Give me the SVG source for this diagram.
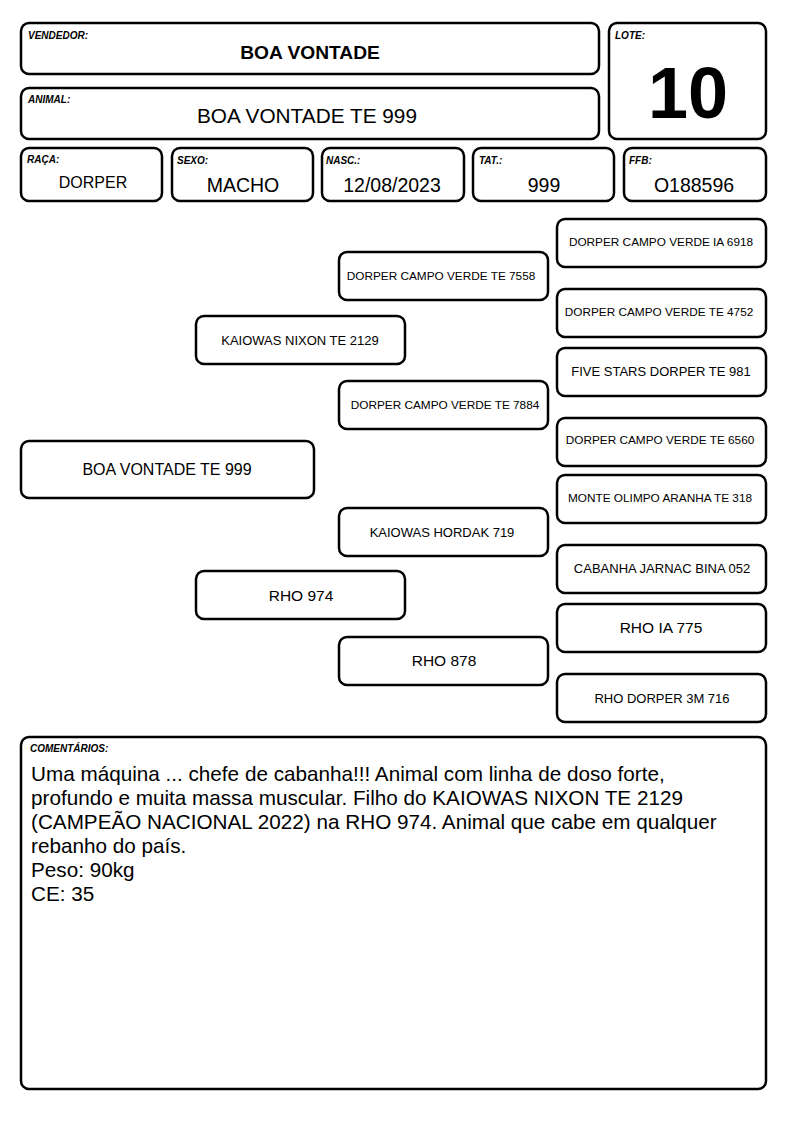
<svg xmlns="http://www.w3.org/2000/svg" width="794" height="1123" viewBox="0 0 794 1123">
<style>
.b{fill:#fff;stroke:#000;stroke-width:2.5}
.l{font-family:"Liberation Sans",Arial,sans-serif;font-size:10px;font-weight:bold;font-style:italic;fill:#000}
.t{font-family:"Liberation Sans",Arial,sans-serif;fill:#000;text-anchor:middle}
.p{font-size:11.8px}
.m{font-size:13px}
.q{font-size:15.5px}
.v{font-size:19.5px}
.c{font-family:"Liberation Sans",Arial,sans-serif;font-size:20.7px;fill:#000}
</style>
<rect width="794" height="1123" fill="#fff"/>
<g id="vendedor"><rect class="b" x="21" y="23" width="578" height="51" rx="8"/><text class="l" x="28" y="39">VENDEDOR:</text><text class="t" x="310" y="59" font-size="19.2" font-weight="bold">BOA VONTADE</text></g>
<g id="animal"><rect class="b" x="21" y="88" width="578" height="51" rx="8"/><text class="l" x="28" y="103">ANIMAL:</text><text class="t" x="307" y="123" font-size="20.8">BOA VONTADE TE 999</text></g>
<g id="lote"><rect class="b" x="609" y="23" width="157" height="116" rx="8"/><text class="l" x="615" y="39">LOTE:</text><text class="t" x="688" y="118" font-size="72" font-weight="bold">10</text></g>
<g id="raca"><rect class="b" x="21" y="148" width="141" height="53" rx="8"/><text class="l" x="27" y="163">RAÇA:</text><text class="t" x="93" y="188" font-size="16">DORPER</text></g>
<g id="sexo"><rect class="b" x="172" y="148" width="141" height="53" rx="8"/><text class="l" x="177" y="164">SEXO:</text><text class="t v" x="243" y="192">MACHO</text></g>
<g id="nasc"><rect class="b" x="322" y="148" width="142" height="53" rx="8"/><text class="l" x="326" y="164">NASC.:</text><text class="t v" x="392" y="192">12/08/2023</text></g>
<g id="tat"><rect class="b" x="473" y="148" width="141" height="53" rx="8"/><text class="l" x="479" y="164">TAT.:</text><text class="t v" x="544" y="192">999</text></g>
<g id="ffb"><rect class="b" x="624" y="148" width="142" height="53" rx="8"/><text class="l" x="629" y="164">FFB:</text><text class="t v" x="694" y="192">O188596</text></g>
<g id="n0"><rect class="b" x="21" y="441" width="293" height="57" rx="8"/><text class="t" x="167" y="475" font-size="16">BOA VONTADE TE 999</text></g>
<g id="n1"><rect class="b" x="196" y="316" width="209" height="48" rx="8"/><text class="t m" x="300" y="345">KAIOWAS NIXON TE 2129</text></g>
<g id="n2"><rect class="b" x="196" y="571" width="209" height="48" rx="8"/><text class="t q" x="301" y="601">RHO 974</text></g>
<g id="n3"><rect class="b" x="339" y="252" width="209" height="48" rx="8"/><text class="t p" x="441" y="280">DORPER CAMPO VERDE TE 7558</text></g>
<g id="n4"><rect class="b" x="339" y="381" width="209" height="48" rx="8"/><text class="t p" x="445" y="409">DORPER CAMPO VERDE TE 7884</text></g>
<g id="n5"><rect class="b" x="339" y="508" width="209" height="48" rx="8"/><text class="t m" x="442" y="537">KAIOWAS HORDAK 719</text></g>
<g id="n6"><rect class="b" x="339" y="637" width="209" height="48" rx="8"/><text class="t q" x="444" y="666">RHO 878</text></g>
<g id="n7"><rect class="b" x="557" y="219" width="209" height="48" rx="8"/><text class="t p" x="661" y="246">DORPER CAMPO VERDE IA 6918</text></g>
<g id="n8"><rect class="b" x="557" y="289" width="209" height="48" rx="8"/><text class="t p" x="659" y="316">DORPER CAMPO VERDE TE 4752</text></g>
<g id="n9"><rect class="b" x="557" y="348" width="209" height="48" rx="8"/><text class="t m" x="661" y="376">FIVE STARS DORPER TE 981</text></g>
<g id="n10"><rect class="b" x="557" y="418" width="209" height="48" rx="8"/><text class="t p" x="660" y="444">DORPER CAMPO VERDE TE 6560</text></g>
<g id="n11"><rect class="b" x="557" y="475" width="209" height="48" rx="8"/><text class="t p" x="660" y="502">MONTE OLIMPO ARANHA TE 318</text></g>
<g id="n12"><rect class="b" x="557" y="545" width="209" height="48" rx="8"/><text class="t m" x="662" y="573">CABANHA JARNAC BINA 052</text></g>
<g id="n13"><rect class="b" x="557" y="604" width="209" height="48" rx="8"/><text class="t q" x="661" y="633">RHO IA 775</text></g>
<g id="n14"><rect class="b" x="557" y="674" width="209" height="48" rx="8"/><text class="t m" x="662" y="703">RHO DORPER 3M 716</text></g>
<g id="connectors"></g>
<g id="comentarios"><rect class="b" x="21" y="737" width="745" height="352" rx="8"/><text class="l" x="30" y="752">COMENTÁRIOS:</text>
<text class="c" x="31" y="781">Uma máquina ... chefe de cabanha!!! Animal com linha de doso forte,</text>
<text class="c" x="31" y="805">profundo e muita massa muscular. Filho do KAIOWAS NIXON TE 2129</text>
<text class="c" x="31" y="829">(CAMPEÃO NACIONAL 2022) na RHO 974. Animal que cabe em qualquer</text>
<text class="c" x="31" y="853">rebanho do país.</text>
<text class="c" x="31" y="877">Peso: 90kg</text>
<text class="c" x="31" y="901">CE: 35</text>
</g>
</svg>
